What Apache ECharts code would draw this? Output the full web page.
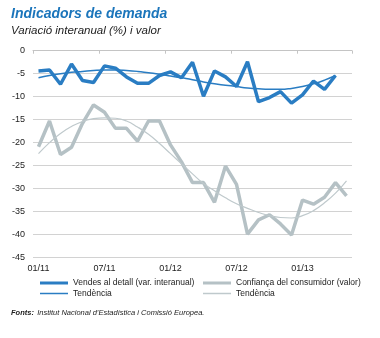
<!DOCTYPE html>
<html><head><meta charset="utf-8">
<script src="https://cdn.jsdelivr.net/npm/echarts@6/dist/echarts.min.js"></script>
<style>html,body{margin:0;padding:0;background:#fff}#c{width:380px;height:338px}</style>
</head><body><div id="c"></div>
<script>
const categories = ['01/11','02/11','03/11','04/11','05/11','06/11','07/11','08/11','09/11','10/11','11/11','12/11',
  '01/12','02/12','03/12','04/12','05/12','06/12','07/12','08/12','09/12','10/12','11/12','12/12',
  '01/13','02/13','03/13','04/13','05/13'];
const yTicks = [0,-5,-10,-15,-20,-25,-30,-35,-40,-45];
const vendes = [-4.4,-4.2,-7.3,-2.9,-6.5,-6.9,-3.3,-3.8,-5.7,-7.1,-7.1,-5.4,-4.6,-5.9,-2.5,-9.9,-4.4,-5.7,-7.8,-2.4,-11.1,-10.2,-8.9,-11.4,-9.6,-6.6,-8.4,-5.4];
const vendesTend = [-5.9,-5.4,-5.0,-4.7,-4.5,-4.3,-4.2,-4.2,-4.3,-4.5,-4.8,-5.1,-5.5,-5.9,-6.3,-6.8,-7.2,-7.5,-7.8,-8.1,-8.3,-8.4,-8.4,-8.2,-7.8,-7.2,-6.4,-5.4];
const confianca = [-20.9,-15.3,-22.6,-21.0,-15.8,-11.8,-13.4,-16.9,-16.9,-19.7,-15.3,-15.3,-20.5,-24.2,-28.7,-28.7,-33.0,-25.1,-29.1,-39.9,-36.8,-35.7,-37.7,-40.1,-32.5,-33.4,-31.9,-28.7,-31.6];
const confiancaTend = [-22.4,-20.0,-18.0,-16.5,-15.4,-14.8,-14.6,-14.7,-15.3,-16.6,-18.2,-20.2,-22.4,-24.6,-26.8,-28.9,-30.5,-32.0,-33.3,-34.3,-35.2,-35.9,-36.3,-36.4,-35.9,-34.8,-33.1,-31.0,-28.3];

const BLUE = '#2a7dc3', GRAY = '#b5c1c5', GRAY_T = '#bfc9cc';
const FONT = '"Liberation Sans", Arial, sans-serif';
const chart = echarts.init(document.getElementById('c'), null, {renderer:'canvas'});
const legendBase = {orient:'horizontal', icon:'rect', itemWidth:28, itemGap:0,
  textStyle:{fontFamily:FONT, fontSize:8.5, color:'#222'}, selectedMode:false, padding:0};
chart.setOption({
  animation:false,
  textStyle:{fontFamily:FONT},
  title:[
    {text:'Indicadors de demanda', left:11, top:7, padding:0,
     textStyle:{fontFamily:FONT, fontSize:14, fontWeight:'bold', fontStyle:'italic', color:'#1b75bb'}},
    {text:'Variació interanual (%) i valor', left:11, top:25, padding:0,
     textStyle:{fontFamily:FONT, fontSize:11.5, fontWeight:'normal', fontStyle:'italic', color:'#222'}}
  ],
  grid:{left:33, right:28, top:50.7, bottom:80.5},
  xAxis:[
    {type:'category', data:categories, position:'bottom', boundaryGap:true,
     axisLine:{show:false}, axisTick:{show:false},
     axisLabel:{interval:5, color:'#222', fontSize:9, fontFamily:FONT, margin:7}},
    {type:'category', data:categories, position:'top', boundaryGap:true,
     axisLine:{show:true, lineStyle:{color:'#c4c4c4', width:1}},
     axisTick:{show:true, inside:true, interval:5, length:3, lineStyle:{color:'#c4c4c4'}},
     axisLabel:{show:false}}
  ],
  yAxis:{type:'value', min:yTicks[yTicks.length-1], max:yTicks[0], interval:5,
    axisLine:{show:false}, axisTick:{show:false},
    axisLabel:{color:'#222', fontSize:9, fontFamily:FONT, margin:8},
    splitLine:{lineStyle:{color:'#d2d2d2', width:1}}},
  legend:[
    Object.assign({}, legendBase, {left:40, top:278.5, itemHeight:3, data:['Vendes al detall (var. interanual)']}),
    Object.assign({}, legendBase, {left:203, top:278.5, itemHeight:3, data:['Confiança del consumidor (valor)']}),
    Object.assign({}, legendBase, {left:40, top:289, itemHeight:1.5, data:['Tendència']}),
    Object.assign({}, legendBase, {left:203, top:289, itemHeight:1.5, data:['Tendència ']})
  ],
  graphic:[{type:'text', left:11, top:307, style:{
    rich:{b:{fontFamily:FONT, fontSize:7.5, fontWeight:'bold', fontStyle:'italic', fill:'#222'},
          n:{fontFamily:FONT, fontSize:7.5, fontStyle:'italic', fill:'#222'}},
    text:'{b|Fonts:} {n|Institut Nacional d\u2019Estadística i Comissió Europea.}'}}],
  series:[
    {name:'Confiança del consumidor (valor)', type:'line', data:confianca, showSymbol:false, symbol:'none',
     lineStyle:{color:GRAY, width:3.5}, itemStyle:{color:GRAY}, z:2},
    {name:'Tendència ', type:'line', data:confiancaTend, smooth:0.5, showSymbol:false, symbol:'none',
     lineStyle:{color:GRAY_T, width:1.2}, itemStyle:{color:GRAY_T}, z:3},
    {name:'Vendes al detall (var. interanual)', type:'line', data:vendes, showSymbol:false, symbol:'none',
     lineStyle:{color:BLUE, width:3.5}, itemStyle:{color:BLUE}, z:4},
    {name:'Tendència', type:'line', data:vendesTend, smooth:0.5, showSymbol:false, symbol:'none',
     lineStyle:{color:BLUE, width:1.5}, itemStyle:{color:BLUE}, z:5}
  ]
});
</script></body></html>
